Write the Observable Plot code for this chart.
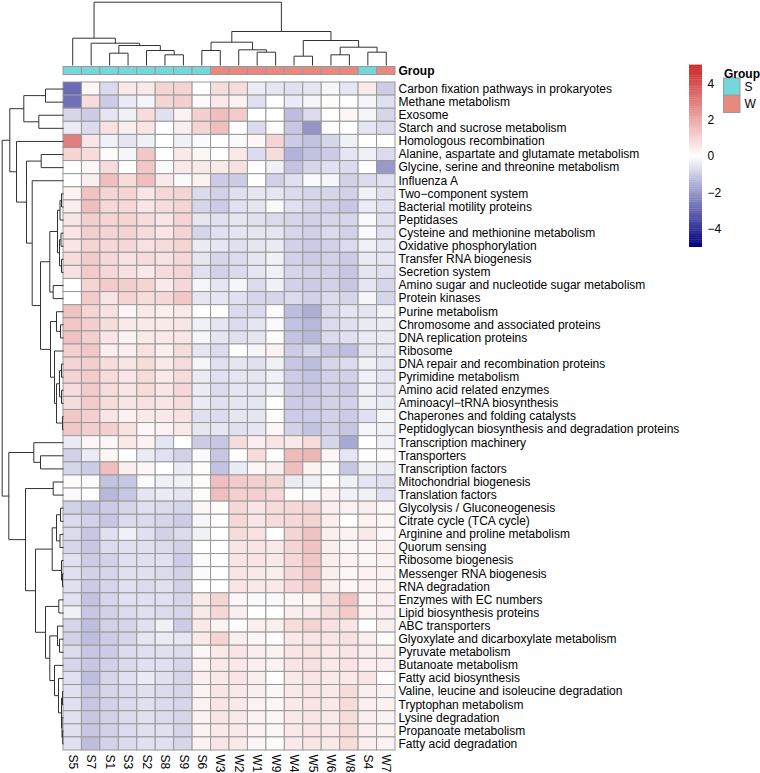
<!DOCTYPE html>
<html><head><meta charset="utf-8">
<script src="https://cdn.jsdelivr.net/npm/d3@7"></script>
<script src="https://cdn.jsdelivr.net/npm/@observablehq/plot@0.6"></script>
<style>
body{margin:0;background:#fff;}
#chart{position:relative;width:760px;height:773px;overflow:hidden;font-family:"Liberation Sans",Arial,Helvetica,sans-serif;}
#chart > svg{position:absolute;overflow:visible;}
</style></head><body><div id="chart"></div>
<script>
const rowLabels = [
"Carbon fixation pathways in prokaryotes","Methane metabolism","Exosome","Starch and sucrose metabolism",
"Homologous recombination","Alanine, aspartate and glutamate metabolism","Glycine, serine and threonine metabolism",
"Influenza A","Two\u2212component system","Bacterial motility proteins","Peptidases","Cysteine and methionine metabolism",
"Oxidative phosphorylation","Transfer RNA biogenesis","Secretion system","Amino sugar and nucleotide sugar metabolism",
"Protein kinases","Purine metabolism","Chromosome and associated proteins","DNA replication proteins","Ribosome",
"DNA repair and recombination proteins","Pyrimidine metabolism","Amino acid related enzymes","Aminoacyl\u2212tRNA biosynthesis",
"Chaperones and folding catalysts","Peptidoglycan biosynthesis and degradation proteins","Transcription machinery",
"Transporters","Transcription factors","Mitochondrial biogenesis","Translation factors","Glycolysis / Gluconeogenesis",
"Citrate cycle (TCA cycle)","Arginine and proline metabolism","Quorum sensing","Ribosome biogenesis",
"Messenger RNA biogenesis","RNA degradation","Enzymes with EC numbers","Lipid biosynthesis proteins","ABC transporters",
"Glyoxylate and dicarboxylate metabolism","Pyruvate metabolism","Butanoate metabolism","Fatty acid biosynthesis",
"Valine, leucine and isoleucine degradation","Tryptophan metabolism","Lysine degradation","Propanoate metabolism",
"Fatty acid degradation"];
const colLabels = ["S5","S7","S1","S3","S2","S8","S9","S6","W3","W2","W1","W9","W4","W5","W6","W8","S4","W7"];
const colGroups = ["S","S","S","S","S","S","S","S","W","W","W","W","W","W","W","W","S","W"];
const groupLevels = ["S","W"];
const groupColors = ["#73D7DB","#E8897F"];
const legendTicks = [4,2,0,-2,-4];
const colorDomain = [-5,0,5];
const colorRange = ["#000080","#ffffff","#CD2626"];

const values = [
[-2.9,0.2,-0.7,0.5,0.5,1.0,1.0,0,0.8,0.8,-0.4,-0.5,-0.6,-0.5,-0.2,-0.5,0.5,-1.0],
[-2.8,0.8,-1.0,-0.4,-0.2,1.0,1.1,0.1,0.5,0.3,-0.6,0,-0.4,-0.2,0.1,0,-0.2,-0.6],
[-0.8,-1.0,-0.5,-0.3,0.8,-0.6,0.3,1.1,1.5,1.2,0,0,-1.3,-0.7,0,0.2,-0.2,-0.8],
[-0.4,-0.7,0.7,0.4,0.6,0,0.4,1.0,1.5,0,-0.7,0.1,-1.1,-2.1,0.1,0,-0.5,-0.7],
[3.0,0.6,-0.3,-0.5,-0.3,0,-0.3,-0.1,0,-0.1,0.2,1.0,-1.0,-1.2,-0.8,-0.3,0,0],
[1.0,0.8,0.1,-0.2,1.3,0,0.5,0.2,0,0.5,-0.7,0.8,-1.5,-1.2,-1.0,-0.5,-0.3,-0.7],
[0,0.2,0.8,0,1.3,-0.1,0.5,0.5,0.5,0.7,0,-0.3,-1.2,-0.8,-0.6,-0.7,0,-2.0],
[0,0.4,1.5,0.8,1.5,0.5,-0.1,0.3,-1.0,-1.0,0.05,-0.9,-0.6,-0.1,-0.2,-0.9,-0.7,-0.6],
[0.3,1.4,1.0,1.0,0.6,0.9,1.0,-0.7,-0.9,-0.6,-0.5,-0.5,-0.7,-0.8,-0.8,-0.9,-0.3,-0.6],
[0.4,1.5,0.9,0.9,0.6,0.8,1.0,-0.8,-1.0,-0.6,-0.5,-0.1,-0.6,-0.8,-0.9,-1.1,-0.4,-0.6],
[0.6,1.1,1.0,1.0,0.8,0.6,1.0,-0.5,-0.6,-0.5,-0.6,-0.7,-0.8,-0.9,-0.8,-0.8,-0.1,-0.6],
[0.6,1.1,1.0,1.0,0.8,0.6,1.0,-0.8,-0.6,-0.5,-0.5,-0.5,-0.8,-0.9,-0.7,-0.9,-0.1,-0.6],
[0.6,1.0,0.9,0.9,0.7,0.8,1.0,-0.4,-0.5,-0.6,-0.5,-0.4,-0.9,-1.0,-0.9,-0.7,-0.3,-0.5],
[0.8,1.2,0.9,0.7,0.8,0.7,0.9,-0.5,-0.8,-0.7,-0.5,-0.3,-0.9,-1.0,-0.9,-1.0,-0.4,-0.5],
[0.7,1.2,0.9,0.7,0.5,0.8,1.0,-0.6,-0.9,-0.7,-0.5,-0.3,-0.8,-0.9,-0.9,-1.1,-0.5,-0.6],
[0,1.0,1.2,1.1,1.0,0.5,0.9,-0.2,-0.5,-0.2,-0.7,-0.3,-0.9,-1.0,-0.9,-1.1,-0.5,-0.8],
[0,1.2,0.6,1.0,0.8,0.9,1.3,-0.5,-0.5,-0.6,-0.8,-0.8,-0.7,-0.9,-0.7,-0.8,-0.2,-0.8],
[1.4,1.0,0.7,0.2,0.5,0.4,0.5,0,0,-0.7,-0.7,0.1,-1.3,-1.6,-0.7,-0.5,-0.5,-0.3],
[1.3,1.1,0.8,0.5,0.5,0.5,0.6,-0.3,-0.5,-0.7,-0.5,-0.1,-1.2,-1.4,-0.7,-0.6,-0.4,-0.4],
[1.4,1.1,0.6,0.3,0.5,0.5,0.6,-0.2,-0.5,-0.6,-0.5,0.1,-1.2,-1.4,-0.7,-0.6,-0.4,-0.4],
[1.1,1.3,0.4,0.4,0.7,0.4,0.8,-0.5,-0.7,0,-0.2,0.3,-1.0,-0.8,-1.1,-1.3,-0.5,-0.5],
[1.0,1.1,0.8,0.6,0.8,0.5,0.8,-0.2,-0.6,-0.5,-0.6,-0.3,-1.1,-1.3,-0.8,-0.7,-0.3,-0.5],
[1.0,1.2,0.8,0.6,0.8,0.5,0.8,-0.4,-0.6,-0.5,-0.5,-0.3,-1.0,-1.2,-0.9,-0.9,-0.3,-0.5],
[0.8,1.2,0.8,0.6,0.8,0.6,0.9,-0.4,-0.7,-0.5,-0.5,-0.3,-1.0,-1.1,-0.9,-1.0,-0.3,-0.5],
[0.8,1.2,0.8,0.6,0.7,0.6,0.8,-0.4,-0.6,-0.5,-0.5,0,-1.0,-1.0,-0.9,-0.9,-0.3,-0.4],
[1.3,1.1,0.6,0.3,0.5,0.5,0.7,-0.6,-0.7,-0.5,-0.5,0.1,-1.0,-1.0,-0.9,-1.0,-0.6,-0.2],
[1.3,1.1,1.1,0.7,0.2,0.3,0.5,-0.5,-0.5,-0.6,-0.5,0.2,-0.9,-1.2,-0.9,-1.1,-0.2,-0.3],
[-0.4,0.2,0.2,0.5,0.3,-0.5,0,-1.0,-1.1,0.8,0.4,0.6,0.5,0.8,-0.8,-1.7,0,-0.3],
[-0.9,-0.4,0.2,0,-0.4,-0.6,-0.9,-0.1,-1.1,0,0.8,0,1.6,1.7,0.2,-0.5,0,0.1],
[-0.8,-1.0,1.5,0.4,0.2,0,-0.4,0.1,-1.2,-0.4,0.2,0.4,1.5,0.3,-0.1,-1.1,-0.3,-0.4],
[0.1,-0.1,-1.2,-1.1,-0.1,-0.3,-0.3,0.1,1.5,1.2,1.1,1.0,-0.4,-0.3,0.1,-0.3,-0.5,-0.6],
[-0.1,0,-1.4,-1.1,-0.5,-0.4,-0.5,0.1,1.5,1.1,1.1,0.9,0.1,-0.1,0.3,-0.3,-0.3,-0.6],
[-0.9,-1.1,-1.0,-0.8,-0.6,-0.7,-0.8,0.2,0.1,0.9,0.6,0.8,0.9,1.0,0.4,0.3,0.4,0.2],
[-0.7,-0.9,-1.1,-0.7,-0.7,-0.8,-1.0,-0.2,0.05,0.9,0.6,0.8,0.9,1.0,0.4,0,0.3,0.2],
[-0.7,-1.1,-0.6,-0.3,-0.6,-0.9,-0.7,-0.3,0,0.8,0.7,0,1.0,1.4,0.4,0.3,0.5,0.2],
[-0.8,-1.1,-0.7,-0.6,-0.6,-0.7,-0.9,0,0,0.6,0.6,0.5,1.0,1.4,0.4,0.2,0.2,0.3],
[-0.6,-1.0,-0.9,-0.6,-0.6,-0.6,-1.0,-0.1,0,0.6,0.6,0.5,0.9,1.3,0.4,0.3,0.2,0.3],
[-0.6,-0.9,-0.8,-0.6,-0.6,-0.7,-0.9,-0.1,0,0.6,0.5,0.4,0.9,1.3,0.4,0.2,0.3,0.3],
[-0.6,-1.0,-0.8,-0.6,-0.7,-0.6,-0.9,0,0,0.6,0.5,0.5,0.9,1.2,0.4,0.2,0.3,0.3],
[-0.6,-1.2,-0.8,-0.6,-0.6,-0.6,-0.8,0.5,1.0,0.2,-0.1,-0.1,0.2,0.3,0.8,1.4,0.2,0.4],
[-0.3,-1.1,-0.9,-0.7,-0.6,-0.7,-0.8,0.5,0.9,0.4,0,0,0.4,0.5,0.8,1.2,0.3,0.4],
[-0.8,-1.3,-0.9,-0.8,-0.6,-0.3,-1.0,0.5,0.3,0.1,0.4,0.4,0.8,1.0,0.7,0.6,0,0.4],
[-0.9,-1.3,-1.0,-0.8,-0.5,-0.4,-0.5,0.5,1.0,0.4,0.2,0,0.5,0.6,0.6,0.7,0.4,0.1],
[-0.7,-1.1,-1.0,-0.7,-0.6,-0.6,-0.7,0.2,0.5,0.6,0.4,0.3,0.6,0.7,0.5,0.6,0.4,0.4],
[-0.8,-1.1,-0.9,-0.7,-0.6,-0.6,-0.8,0.3,0.5,0.5,0.4,0.3,0.6,0.7,0.5,0.6,0.4,0.4],
[-0.6,-1.3,-0.8,-0.6,-0.4,-0.6,-0.8,0.4,0.5,0.6,0.4,0,0.5,0.6,0.5,0.5,0.6,0.05],
[-0.6,-1.1,-0.8,-0.7,-0.6,-0.7,-0.8,0.3,0.6,0.5,0.4,0.2,0.5,0.6,0.5,0.8,0.4,0.3],
[-0.6,-1.1,-0.9,-0.7,-0.6,-0.7,-0.8,0.3,0.6,0.5,0.3,0.2,0.5,0.6,0.5,0.8,0.4,0.3],
[-0.6,-1.1,-0.9,-0.7,-0.6,-0.7,-0.8,0.3,0.6,0.5,0.3,0.2,0.5,0.6,0.5,0.8,0.4,0.3],
[-0.6,-1.1,-0.9,-0.7,-0.6,-0.6,-0.8,0.3,0.5,0.5,0.3,0.2,0.5,0.6,0.5,0.8,0.4,0.3],
[-0.6,-1.3,-0.9,-0.7,-0.6,-0.6,-0.8,0.3,0.6,0.5,0.2,0.1,0.5,0.6,0.5,0.8,0.4,0.3]];

// dendrograms: [mergeHeight, left, right]; leaves are display indices
const colTree = [63.3,
  [27.3, 0, [22.3, 1, [20, [12.3, 2, 3], [15, 4, [10.7, 5, 6]]]]],
  [34, [23.3, [15, 7, 8], [15.7, 9, [13.3, 10, 11]]],
       [25, [9.3, 12, 13], [18.3, [10.7, 14, 15], [13.3, 16, 17]]]]];

const rowTree = [61.3,
 [53.7,
   [39.7, [18, 0, 1], [24.7, 2, 3]],
   [47, 4,
     [37, [22.3, 5, 6],
       [31.3, 7,
         [23,
           [13.7, [6, [3.5, [2, 8, 9], 10], [4, [2.5, 11, 12], [2, 13, 14]]], [10.3, 15, 16]],
           [13, [7, 17, [3, 18, 19]], [9, 20, [7, [4, [2, 21, 22], [2, 23, 24]], [1, 25, 26]]]]]]]]],
 [54.7,
   [29.7, 27, [23, 28, 29]],
   [38, [10.3, 30, 31],
     [28,
       [11.3, [7, [3, 32, 33], [3.5, 34, 35]], [2, 36, [1, 37, 38]]],
       [18, [4.7, 39, 40], [13.7, [6, 41, [4, 42, 43]], [9, 44, [5, 45, [2, [1, 46, 47], [1.5, 48, [0.8, 49, 50]]]]]]]]]]];

function dendroLinks(tree) {
  const links = [];
  (function walk(node) {
    if (typeof node === "number") return {pos: node + 0.5, h: 0};
    const [h, a, b] = node;
    const A = walk(a), B = walk(b);
    links.push({h1: A.h, p1: A.pos, h2: h, p2: A.pos});
    links.push({h1: B.h, p1: B.pos, h2: h, p2: B.pos});
    links.push({h1: h, p1: A.pos, h2: h, p2: B.pos});
    return {pos: (A.pos + B.pos) / 2, h};
  })(tree);
  return links;
}

const cells = [];
rowLabels.forEach((r, i) => colLabels.forEach((c, j) => cells.push({row: r, col: c, value: values[i][j]})));
const groupCells = colLabels.map((c, j) => ({col: c, key: "Group", group: colGroups[j]}));

const font = {fontFamily: "'Liberation Sans', Arial, Helvetica, sans-serif", fontSize: "12px", background: "transparent", color: "#000", overflow: "visible"};
const colorScale = {type: "linear", domain: colorDomain, range: colorRange, interpolate: "rgb"};
const chart = document.getElementById("chart");
function place(svg, left, top) { svg.style.left = left + "px"; svg.style.top = top + "px"; chart.appendChild(svg); }

// heatmap
place(Plot.plot({
  width: 760, height: 691, marginTop: 0, marginBottom: 23, marginLeft: 63, marginRight: 365,
  style: font,
  x: {domain: colLabels, padding: 0, round: false},
  y: {domain: rowLabels, padding: 0, round: false},
  color: colorScale,
  marks: [
    Plot.cell(cells, {x: "col", y: "row", fill: "value", stroke: "#999999", strokeWidth: 1, inset: 0}),
    Plot.axisY({anchor: "right", tickSize: 0, tickPadding: 3, fontSize: 12, label: null}),
    Plot.axisX({anchor: "bottom", tickSize: 0, tickPadding: 4, tickRotate: 90, fontSize: 12, label: null})
  ]
}), 0, 82);

// group annotation bar
place(Plot.plot({
  width: 760, height: 9, marginTop: 0.5, marginBottom: 0.5, marginLeft: 63, marginRight: 365,
  style: font,
  x: {domain: colLabels, padding: 0, round: false, axis: null},
  y: {domain: ["Group"], padding: 0, round: false},
  color: {type: "ordinal", domain: groupLevels, range: groupColors},
  marks: [
    Plot.cell(groupCells, {x: "col", y: "key", fill: "group", stroke: "#999999", strokeWidth: 1, inset: 0}),
    Plot.axisY({anchor: "right", tickSize: 0, tickPadding: 3, fontSize: 12, fontWeight: "bold", label: null})
  ]
}), 0, 66);

// column dendrogram
place(Plot.plot({
  width: 760, height: 66, marginTop: 0, marginBottom: 1, marginLeft: 63, marginRight: 365,
  style: font,
  x: {domain: [0, colLabels.length], axis: null},
  y: {domain: [0, 65], axis: null},
  marks: [
    Plot.link(dendroLinks(colTree), {x1: "p1", y1: "h1", x2: "p2", y2: "h2", stroke: "#333", strokeWidth: 1})
  ]
}), 0, 0);

// row dendrogram
place(Plot.plot({
  width: 64, height: 668, marginTop: 0, marginBottom: 0, marginLeft: 0, marginRight: 1,
  style: font,
  x: {domain: [63, 0], axis: null},
  y: {domain: [0, rowLabels.length], reverse: true, axis: null},
  marks: [
    Plot.link(dendroLinks(rowTree), {x1: "h1", y1: "p1", x2: "h2", y2: "p2", stroke: "#333", strokeWidth: 1})
  ]
}), 0, 82);

// colour legend
const steps = d3.range(colorDomain[0], colorDomain[2], 0.1);
place(Plot.plot({
  width: 40, height: 182, marginTop: 0, marginBottom: 0, marginLeft: 0, marginRight: 27,
  style: font,
  x: {domain: [0, 1], axis: null},
  y: {domain: [colorDomain[0], colorDomain[2]]},
  color: colorScale,
  marks: [
    Plot.rect(steps, {x1: 0, x2: 1, y1: d => d, y2: d => d + 0.12, fill: d => d + 0.05}),
    Plot.axisY({anchor: "right", ticks: legendTicks, tickSize: 0, tickPadding: 5, fontSize: 12, label: null,
      tickFormat: d => d < 0 ? "\u2212" + Math.abs(d) : String(d)})
  ]
}), 689, 65);

// group legend
place(Plot.plot({
  width: 37, height: 51, marginTop: 16, marginBottom: 0.5, marginLeft: 0.5, marginRight: 20,
  style: font,
  y: {domain: groupLevels, padding: 0, round: false},
  color: {type: "ordinal", domain: groupLevels, range: groupColors},
  marks: [
    Plot.cell(groupLevels, {y: d => d, fill: d => d, stroke: "#999999", strokeWidth: 1, inset: 0}),
    Plot.axisY({anchor: "right", tickSize: 0, tickPadding: 4, fontSize: 12, label: null}),
    Plot.text(["Group"], {frameAnchor: "top-left", text: d => d, dy: -9, fontWeight: "bold", fontSize: 12, textAnchor: "start"})
  ]
}), 723, 62);
</script>
</body></html>
